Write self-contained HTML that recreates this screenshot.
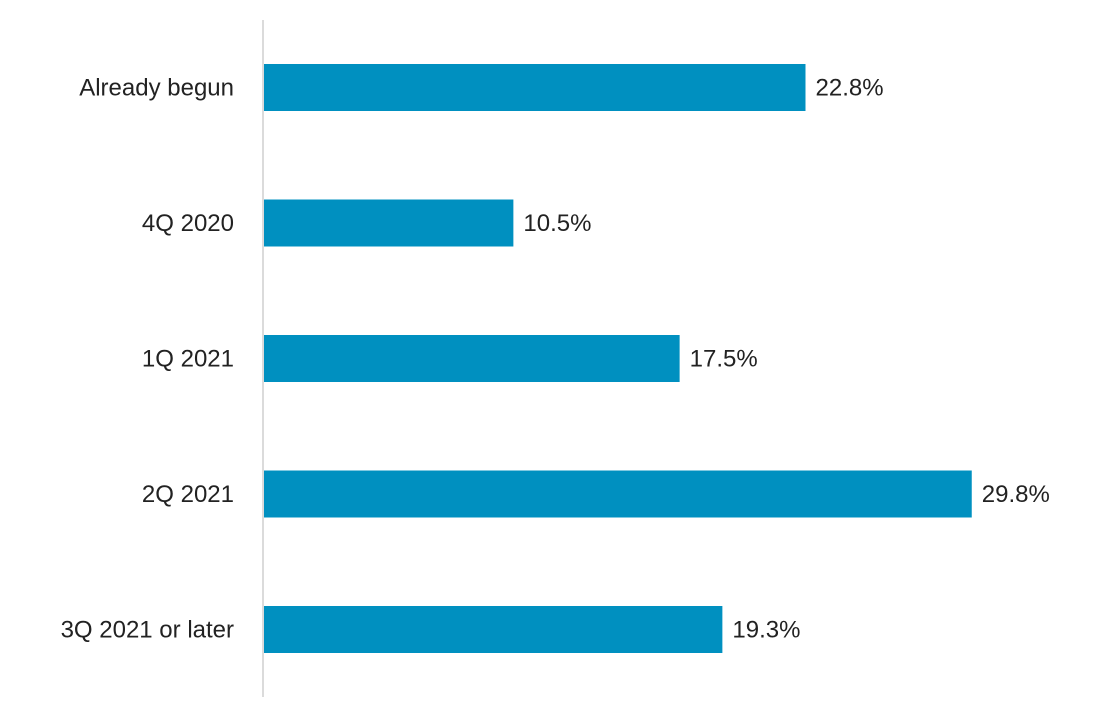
<!DOCTYPE html>
<html><head><meta charset="utf-8"><style>
html,body{margin:0;padding:0;background:#fff;}
svg{display:block;font-family:"Liberation Sans",sans-serif;}
</style></head><body>
<svg id="chart" width="1118" height="718" viewBox="0 0 1118 718" xmlns="http://www.w3.org/2000/svg">
<line x1="263" y1="20" x2="263" y2="697" stroke="#cfcfcf" stroke-width="1.5"/>
<g id="bars"></g>
</svg>
<script>
const categories = ["Already begun","4Q 2020","1Q 2021","2Q 2021","3Q 2021 or later"];
const values = [22.8,10.5,17.5,29.8,19.3];
const valueLabels = ["22.8%","10.5%","17.5%","29.8%","19.3%"];
const x0 = 264, pxPerUnit = 23.75;
const xScale = v => x0 + v * pxPerUnit;
const bandTop = 64, bandStep = 135.5, barH = 47;
const yScale = i => bandTop + i * bandStep;
const g = document.getElementById('bars');
const NS = 'http://www.w3.org/2000/svg';
categories.forEach((c, i) => {
  const y = yScale(i);
  const r = document.createElementNS(NS, 'rect');
  
  
  r.setAttribute('x', x0);
  r.setAttribute('y', y);
  r.setAttribute('width', xScale(values[i]) - x0);
  r.setAttribute('height', barH);
  r.setAttribute('fill', '#0090c0');
  g.appendChild(r);
  const t = document.createElementNS(NS, 'text');
  
  
  t.setAttribute('x', 234);
  t.setAttribute('y', y + barH / 2 + 8);
  t.setAttribute('text-anchor', 'end');
  t.setAttribute('font-size', '24');
  t.setAttribute('fill', '#222');
  t.textContent = c;
  g.appendChild(t);
  const v = document.createElementNS(NS, 'text');
  
  
  v.setAttribute('x', xScale(values[i]) + 10);
  v.setAttribute('y', y + barH / 2 + 8);
  v.setAttribute('font-size', '24');
  v.setAttribute('fill', '#222');
  v.textContent = valueLabels[i];
  g.appendChild(v);
});
</script>
</body></html>
